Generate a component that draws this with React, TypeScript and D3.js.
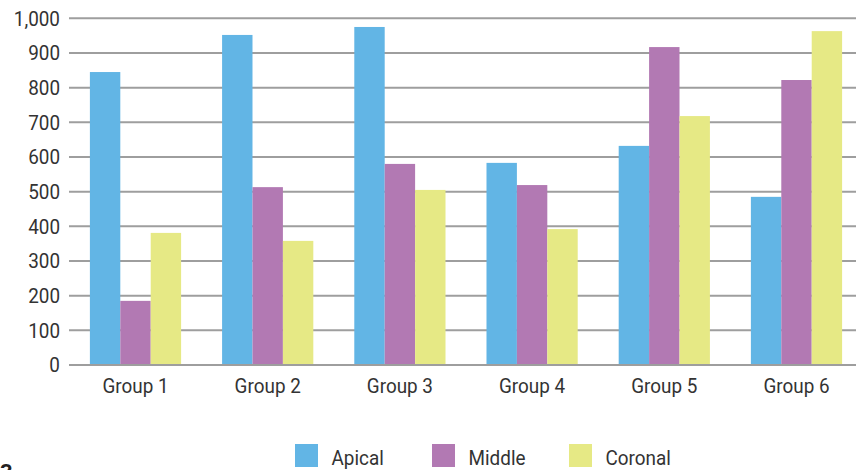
import React from "react";
import * as d3 from "d3";

const groups = ["Group 1", "Group 2", "Group 3", "Group 4", "Group 5", "Group 6"];
const seriesNames = ["Apical", "Middle", "Coronal"];
const apical = [845, 952, 975, 583, 632, 485];
const middle = [185, 513, 580, 519, 917, 822];
const coronal = [381, 358, 505, 392, 718, 963];
const yTicks = [0, 100, 200, 300, 400, 500, 600, 700, 800, 900, 1000];
const colors = ["#62b5e5", "#b279b3", "#e6e985"];

const W = 856;
const H = 470;
const FONT = "Roboto, 'DejaVu Sans Condensed', sans-serif";

export default function App() {
  const series = [apical, middle, coronal];
  const y = d3.scaleLinear().domain([0, 1000]).range([365, 18.3]);
  const x0 = d3
    .scaleBand<string>()
    .domain(groups)
    .range([69.4, 862.6])
    .paddingInner(0.31)
    .paddingOuter(0.155);
  const x1 = d3
    .scaleBand<string>()
    .domain(seriesNames)
    .range([0, x0.bandwidth()]);
  const fmt = d3.format(",");

  const legendX = [295, 432, 569];

  return (
    <svg
      width={W}
      height={H}
      style={{ position: "absolute", left: 0, top: 0, background: "#fff" }}
      fontFamily={FONT}
    >
      {yTicks.map((t) => (
        <g key={t}>
          <line x1={69} x2={W} y1={y(t)} y2={y(t)} stroke="#9e9e9e" strokeWidth={2} />
          <text
            x={60}
            y={y(t)}
            textAnchor="end"
            dominantBaseline="central"
            fontSize={21}
            fill="#333"
            transform={`translate(60,0) scale(0.9,1) translate(-60,0)`}
          >
            {fmt(t)}
          </text>
        </g>
      ))}
      {groups.map((g, gi) => (
        <g key={g} transform={`translate(${x0(g)},0)`}>
          {series.map((s, si) => (
            <rect
              key={si}
              x={x1(seriesNames[si])}
              y={y(s[gi])}
              width={x1.bandwidth()}
              height={y(0) - y(s[gi]) - 1}
              fill={colors[si]}
            />
          ))}
          <text
            x={0}
            y={393}
            textAnchor="middle"
            fontSize={21}
            fill="#333"
            transform={`translate(${x0.bandwidth() / 2},0) scale(0.9,1)`}
          >
            {g}
          </text>
        </g>
      ))}
      {seriesNames.map((n, i) => (
        <g key={n}>
          <rect x={legendX[i]} y={444} width={23} height={23} fill={colors[i]} />
          <text
            x={0}
            y={465}
            fontSize={21}
            fill="#333"
            transform={`translate(${legendX[i] + 36.5},0) scale(0.9,1)`}
          >
            {n}
          </text>
        </g>
      ))}
      <text x={0} y={480} fontSize={22} fontWeight="bold" fill="#222">
        3
      </text>
    </svg>
  );
}
